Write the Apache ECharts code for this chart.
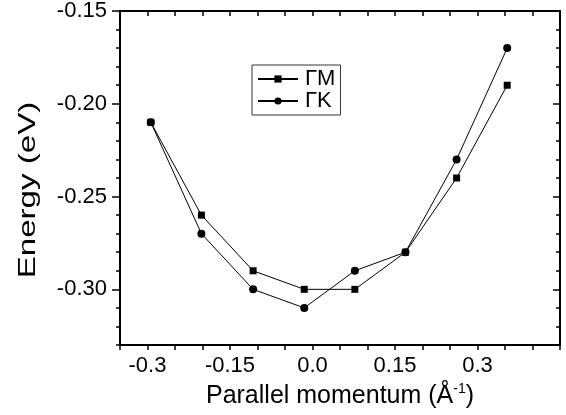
<!DOCTYPE html>
<html>
<head>
<meta charset="utf-8">
<script src="https://cdn.jsdelivr.net/npm/echarts@6/dist/echarts.min.js"></script>
<style>
html,body{margin:0;padding:0;background:#fff;}
#chart{width:566px;height:415px;}
</style>
</head>
<body>
<div id="chart"></div>
<script>
// Data
const momentum = [-0.294, -0.202, -0.108, -0.015, 0.077, 0.169, 0.262, 0.354];
const energyGM = [-0.21, -0.26, -0.29, -0.30, -0.30, -0.28, -0.24, -0.19];
const energyGK = [-0.21, -0.27, -0.30, -0.31, -0.29, -0.28, -0.23, -0.17];
const seriesNames = ['ΓM', 'ΓK'];
const xTickLabels = [-0.3, -0.15, 0.0, 0.15, 0.3];
const yTickLabels = [-0.30, -0.25, -0.20, -0.15];
const yTitle = 'Energy (eV)';

const FONT = 'Liberation Sans, Arial, Helvetica, sans-serif';
const xMin = -0.35, xMax = 0.45, yMin = -0.33, yMax = -0.15;

function fmtX(v) {
  let s = v.toFixed(2);
  if (s.endsWith('0')) s = s.slice(0, -1);
  return s;
}
function isXLabel(v) {
  return xTickLabels.some(t => Math.abs(t - v) < 1e-6);
}

const chart = echarts.init(document.getElementById('chart'));
const axisLineStyle = {show: true, onZero: false, lineStyle: {color: '#000', width: 2}};
const noLine = {show: false, onZero: false};

chart.setOption({
  animation: false,
  backgroundColor: '#fff',
  grid: {left: 120, right: 6, top: 11, bottom: 70},
  graphic: [{
    type: 'text', x: 28, y: 190, rotation: Math.PI / 2, scaleX: 1.38, scaleY: 1,
    style: {
      text: yTitle, fontSize: 24, fontFamily: FONT, fill: '#000',
      align: 'center', verticalAlign: 'middle',
      textAlign: 'center', textVerticalAlign: 'middle'
    }
  }],
  legend: {
    orient: 'vertical',
    left: 252, top: 65,
    padding: [3, 5, 3, 5],
    borderColor: '#333', borderWidth: 1,
    itemWidth: 40, itemHeight: 9, itemGap: 0,
    textStyle: {fontFamily: FONT, fontSize: 22, color: '#000', lineHeight: 20, padding: [0, 0, 0, 2]},
    data: seriesNames
  },
  xAxis: [{
    type: 'value', position: 'bottom', min: xMin, max: xMax, interval: 0.05,
    axisLine: axisLineStyle,
    axisTick: {show: true, inside: false, length: 5, lineStyle: {color: '#000', width: 1.5}},
    splitLine: {show: false},
    axisLabel: {
      show: true, margin: 10, color: '#000', fontFamily: FONT, fontSize: 22,
      showMinLabel: true, showMaxLabel: true,
      formatter: v => isXLabel(v) ? fmtX(v) : ''
    },
    name: '{t|Parallel momentum (Å}{s|-1}{t|)}',
    nameLocation: 'middle', nameGap: 36,
    nameTextStyle: {
      fontFamily: FONT, color: '#000',
      rich: {
        t: {fontFamily: FONT, fontSize: 25, color: '#000', lineHeight: 28},
        s: {fontFamily: FONT, fontSize: 14, color: '#000', verticalAlign: 'top', lineHeight: 28}
      }
    }
  }, {
    type: 'value', position: 'top', min: xMin, max: xMax, interval: 0.05,
    axisLine: axisLineStyle,
    axisTick: {show: true, inside: true, length: 5, lineStyle: {color: '#000', width: 1.5}},
    axisLabel: {show: false}, splitLine: {show: false}
  }],
  yAxis: [{
    type: 'value', position: 'left', min: yMin, max: yMax, interval: 0.01,
    axisLine: axisLineStyle,
    axisTick: {show: true, inside: false, length: 4, lineStyle: {color: '#000', width: 1.5}},
    splitLine: {show: false},
    axisLabel: {
      show: true, margin: 13, color: '#000', fontFamily: FONT, fontSize: 22,
      customValues: yTickLabels,
      formatter: v => v.toFixed(2)
    }
  }, {
    type: 'value', position: 'right', min: yMin, max: yMax, interval: 0.01,
    axisLine: axisLineStyle,
    axisTick: {show: true, inside: true, length: 4, lineStyle: {color: '#000', width: 1.5}},
    axisLabel: {show: false}, splitLine: {show: false}
  }, {
    type: 'value', position: 'left', min: yMin, max: yMax, offset: 0,
    axisLine: noLine,
    axisTick: {show: true, inside: false, length: 8, customValues: yTickLabels, lineStyle: {color: '#000', width: 1.5}},
    axisLabel: {show: false}, splitLine: {show: false}
  }, {
    type: 'value', position: 'right', min: yMin, max: yMax, offset: 0,
    axisLine: noLine,
    axisTick: {show: true, inside: true, length: 7, customValues: yTickLabels, lineStyle: {color: '#000', width: 1.5}},
    axisLabel: {show: false}, splitLine: {show: false}
  }],
  series: [{
    name: seriesNames[0], type: 'line',
    xAxisIndex: 0, yAxisIndex: 0,
    data: momentum.map((x, i) => [x, energyGM[i]]),
    symbol: 'rect', symbolSize: 7,
    lineStyle: {color: '#000', width: 1},
    itemStyle: {color: '#000'}
  }, {
    name: seriesNames[1], type: 'line',
    xAxisIndex: 0, yAxisIndex: 0,
    data: momentum.map((x, i) => [x, energyGK[i]]),
    symbol: 'circle', symbolSize: 8,
    lineStyle: {color: '#000', width: 1},
    itemStyle: {color: '#000'}
  }]
});
</script>
</body>
</html>
